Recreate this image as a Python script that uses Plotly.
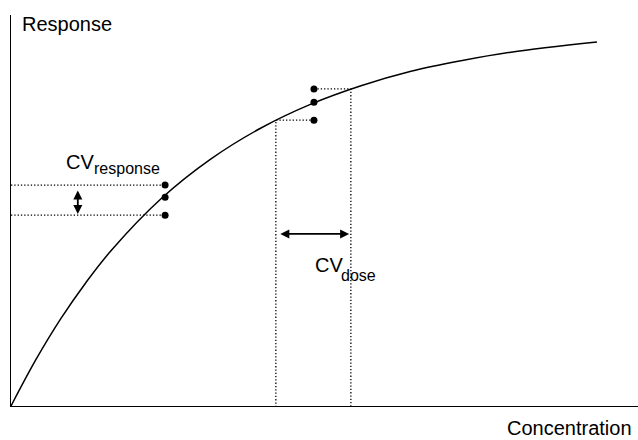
import plotly.graph_objects as go

# Dose-response curve
curve_conc = [0, 4.27, 8.53, 12.8, 17.06, 25.6, 34.13, 42.66, 51.19, 59.73, 68.26, 76.79, 85.32, 100]
curve_resp = [0, 11.9, 22.4, 31.6, 39.7, 53.0, 63.2, 71.1, 77.2, 81.9, 85.6, 88.3, 90.5, 93.1]

# Replicate responses
resp_pts_x = [26.3, 26.3, 26.3]
resp_pts_y = [56.5, 53.4, 48.8]
dose_pts_x = [51.7, 51.7, 51.7]
dose_pts_y = [81.1, 77.7, 73.1]

# Dose read-off from curve
dose_low = 45.2
dose_high = 58.0

F = "Liberation Sans, Arial, sans-serif"

fig = go.Figure()
fig.add_trace(go.Scatter(x=curve_conc, y=curve_resp, mode="lines",
                         line=dict(color="black", width=1.5, shape="spline"), hoverinfo="skip"))

dot = dict(color="black", width=1.3, dash="1.3px,2px")
for yv in (resp_pts_y[0], resp_pts_y[2]):
    fig.add_trace(go.Scatter(x=[0, resp_pts_x[0] - 0.5], y=[yv, yv], mode="lines", line=dot))
fig.add_trace(go.Scatter(x=[dose_pts_x[0] + 0.6, dose_high, dose_high], y=[dose_pts_y[0], dose_pts_y[0], 0],
                         mode="lines", line=dot))
fig.add_trace(go.Scatter(x=[dose_pts_x[2] - 0.6, dose_low, dose_low], y=[dose_pts_y[2], dose_pts_y[2], 0],
                         mode="lines", line=dot))

fig.add_trace(go.Scatter(x=resp_pts_x + dose_pts_x, y=resp_pts_y + dose_pts_y, mode="markers",
                         marker=dict(color="black", size=7)))

# double-headed arrows
fig.add_annotation(x=11.4, y=resp_pts_y[2] + 0.3, ax=11.4, ay=resp_pts_y[0] - 1.0,
                   xref="x", yref="y", axref="x", ayref="y", showarrow=True, arrowside="end+start",
                   arrowhead=2, arrowsize=1, arrowwidth=1.8, arrowcolor="black", text="")
fig.add_annotation(x=dose_high - 0.3, y=44.0, ax=dose_low + 0.5, ay=44.0,
                   xref="x", yref="y", axref="x", ayref="y", showarrow=True, arrowside="end+start",
                   arrowhead=2, arrowsize=1, arrowwidth=1.8, arrowcolor="black", text="")


def txt(x, y, s, size, xref="x", yref="y", xanchor="left"):
    fig.add_annotation(x=x, y=y, xref=xref, yref=yref, text=s, showarrow=False, xanchor=xanchor,
                       yanchor="middle", font=dict(family=F, size=size, color="black"))


txt(9.0, 62.4, "CV", 20)
txt(13.8, 60.8, "response", 16)
txt(51.5, 36.1, "CV", 20)
txt(55.9, 33.4, "dose", 16)

txt((20 - 11) / 627, 1 - (24 - 15) / 391, "Response", 20, "paper", "paper")
txt((634 - 11) / 627, (406 - 428) / 391, "Concentration", 20, "paper", "paper", xanchor="right")

fig.update_layout(
    width=638, height=440, margin=dict(l=11, r=0, t=15, b=34),
    plot_bgcolor="white", paper_bgcolor="white", showlegend=False,
    xaxis=dict(range=[0, 107], showline=True, linecolor="black", linewidth=1, showgrid=False,
               zeroline=False, showticklabels=False, ticks=""),
    yaxis=dict(range=[0, 100], showline=True, linecolor="black", linewidth=1, showgrid=False,
               zeroline=False, showticklabels=False, ticks=""),
)
fig.write_html("out.html", config={"displayModeBar": False},
               post_script="document.body.style.margin='0';document.body.style.overflow='hidden';")
